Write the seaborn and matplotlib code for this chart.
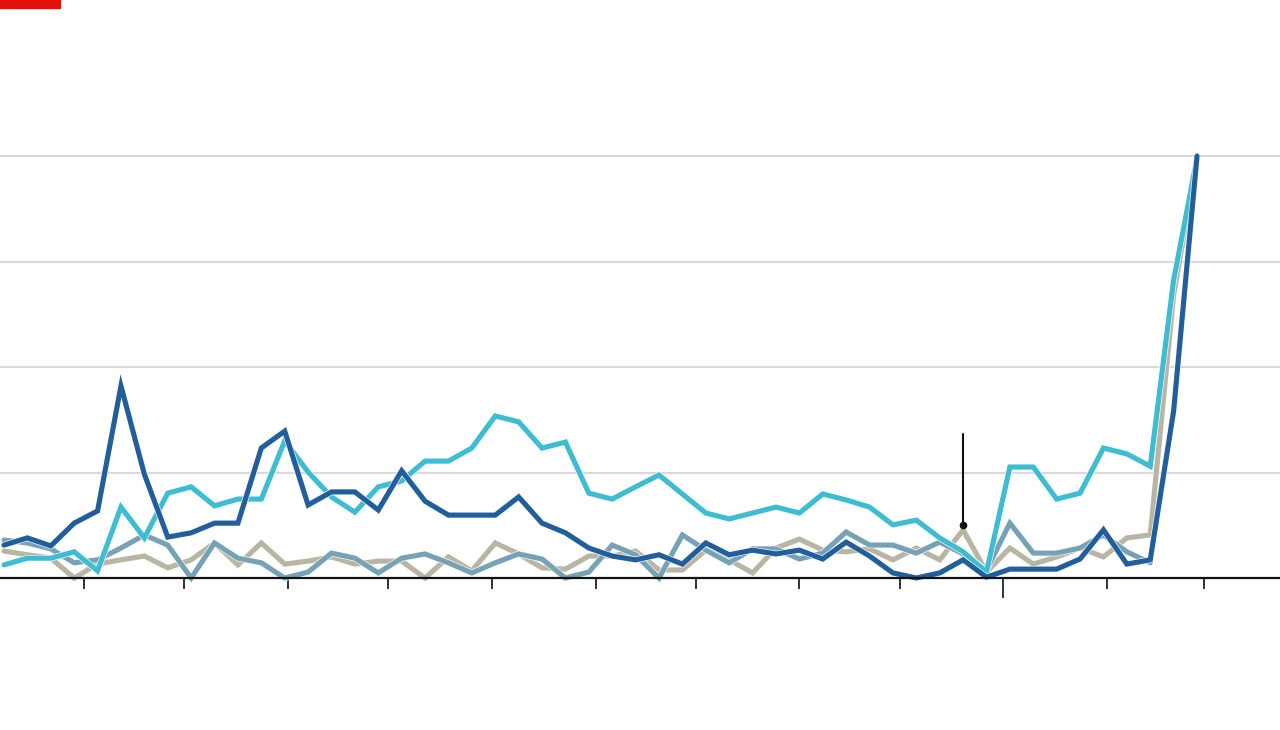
import matplotlib
matplotlib.use("Agg")
import matplotlib.pyplot as plt
import matplotlib.dates as mdates
import matplotlib.patheffects as pe
from matplotlib.patches import Rectangle
import numpy as np
import pandas as pd
import seaborn as sns

# ---------------- data (weekly index, 0-100) ----------------
weeks = pd.date_range("2019-03-08", periods=52, freq="7D")

series_names = ["Series D", "Series C", "Series B", "Series A"]  # drawing order (bottom -> top)

series_a = [7.8, 9.5, 7.6, 13.0, 15.9, 45.5, 24.6, 9.7, 10.7, 13.0, 13.0, 30.8, 34.8, 17.3,
            20.4, 20.4, 16.1, 25.4, 18.2, 14.9, 14.9, 14.9, 19.2, 13.0, 10.7, 7.1, 5.2, 4.3,
            5.5, 3.3, 8.3, 5.5, 6.6, 5.7, 6.6, 4.5, 8.5, 5.2, 1.2, 0.0, 1.2, 4.3, 0.2, 2.1,
            2.1, 2.1, 4.5, 11.4, 3.3, 4.3, 39.6, 100.0]
series_b = [3.1, 4.7, 4.7, 6.2, 1.7, 16.8, 9.5, 20.1, 21.6, 17.1, 18.7, 18.7, 32.5, 25.1,
            19.2, 15.6, 21.6, 23.0, 27.7, 27.7, 30.8, 38.4, 37.0, 30.8, 32.2, 20.1, 18.7, 21.6,
            24.4, 19.9, 15.4, 14.0, 15.4, 16.8, 15.4, 19.9, 18.5, 16.8, 12.6, 13.7, 9.5, 6.2,
            1.4, 26.3, 26.3, 18.7, 20.1, 30.8, 29.4, 26.5, 70.6, 99.5]
series_c = [9.0, 8.3, 6.9, 3.6, 4.3, 7.1, 10.2, 7.8, 0.0, 8.3, 4.7, 3.6, 0.0, 1.4, 5.9, 4.7,
            1.2, 4.7, 5.7, 3.6, 1.2, 3.6, 5.7, 4.5, 0.0, 1.4, 7.8, 5.5, 0.0, 10.2, 6.6, 3.6,
            6.9, 6.9, 4.5, 5.9, 10.9, 7.8, 7.8, 5.9, 8.5, 5.7, 1.9, 13.0, 5.9, 5.9, 7.1, 10.2,
            6.2, 3.6, np.nan, np.nan]
series_d = [6.4, 5.5, 4.7, 0.0, 3.3, 4.3, 5.2, 2.4, 4.3, 8.3, 3.1, 8.3, 3.3, 4.0, 5.0, 3.3,
            4.0, 4.0, 0.0, 5.0, 1.7, 8.3, 5.7, 2.4, 2.1, 5.2, 5.2, 6.4, 1.9, 1.9, 6.6, 4.3,
            1.2, 7.1, 9.2, 6.6, 6.2, 6.9, 4.3, 7.1, 4.3, 11.4, 1.4, 7.1, 3.3, 5.0, 7.1, 5.0,
            9.5, 10.2, 67.1, 99.1]

colors = {"Series A": "#215e9b", "Series B": "#3ebcd2",
          "Series C": "#76a2b5", "Series D": "#b8b5a3"}

grid_values = [25, 50, 75, 100]
annot_index = 41
annot_top = 34.1

# ---------------- build long-form frame ----------------
frames = []
for name, vals in zip(["Series A", "Series B", "Series C", "Series D"],
                      [series_a, series_b, series_c, series_d]):
    frames.append(pd.DataFrame({"week": weeks, "value": vals, "series": name}))
df = pd.concat(frames, ignore_index=True).dropna()

# ---------------- figure ----------------
sns.set_style("white")
plt.rcParams["font.family"] = ["DejaVu Sans"]

fig = plt.figure(figsize=(12.8, 7.3), dpi=100)
ax = fig.add_axes([0.0, (730 - 578) / 730, 1.0, 478 / 730])

for g in grid_values:
    ax.axhline(g, color="#d9d9d9", lw=1.5, zorder=0)

sns.lineplot(data=df, x="week", y="value", hue="series", hue_order=series_names,
             palette=colors, linewidth=3.7, legend=False, ax=ax, estimator=None,
             sort=True)

for ln in ax.get_lines():
    if ln.get_color() in colors.values() or True:
        pass
for ln in ax.lines:
    if ln.get_linewidth() > 3:
        ln.set_clip_on(False)
        ln.set_solid_joinstyle("miter")
        ln.set_path_effects([pe.Stroke(linewidth=4.6, foreground="white"), pe.Normal()])

# annotation marker at beige peak
ax_x = weeks[annot_index]
ax.plot([ax_x, ax_x], [series_d[annot_index] + 1.2, annot_top], color="#111111",
        lw=1.5, zorder=10, clip_on=False)
ax.plot([ax_x], [series_d[annot_index] + 1.2], marker="o", color="#111111",
        markersize=4.5, zorder=11, clip_on=False)

# limits
px_per_day = (1003 - 84) / 275.0
left = weeks[0] - pd.Timedelta(days=4 / px_per_day)
right = left + pd.Timedelta(days=1280 / px_per_day)
ax.set_xlim(left, right)
ax.set_ylim(0, 100 * (578 - 100) / (578 - 156))

# axes styling
for s in ["top", "right", "left"]:
    ax.spines[s].set_visible(False)
ax.spines["bottom"].set_color("#111111")
ax.spines["bottom"].set_linewidth(1.6)
ax.set_yticks([])
ax.set_xlabel("")
ax.set_ylabel("")

ax.xaxis.set_major_locator(mdates.MonthLocator(bymonth=[2, 3, 4, 5, 6, 7, 8, 9, 10, 11, 12]))
ax.xaxis.set_minor_locator(mdates.MonthLocator(bymonth=[1]))
ax.tick_params(axis="x", which="major", direction="out", length=8, width=1.3,
               color="#222222", labelbottom=False, bottom=True)
ax.tick_params(axis="x", which="minor", direction="out", length=14.5, width=1.3,
               color="#222222", labelbottom=False, bottom=True)
ax.grid(False)

# red tag top-left
fig.patches.append(Rectangle((0, 1 - 8 / 730), 60 / 1280, 8 / 730,
                             transform=fig.transFigure, color="#e3120b", zorder=5))

fig.savefig("out.png", dpi=100)
